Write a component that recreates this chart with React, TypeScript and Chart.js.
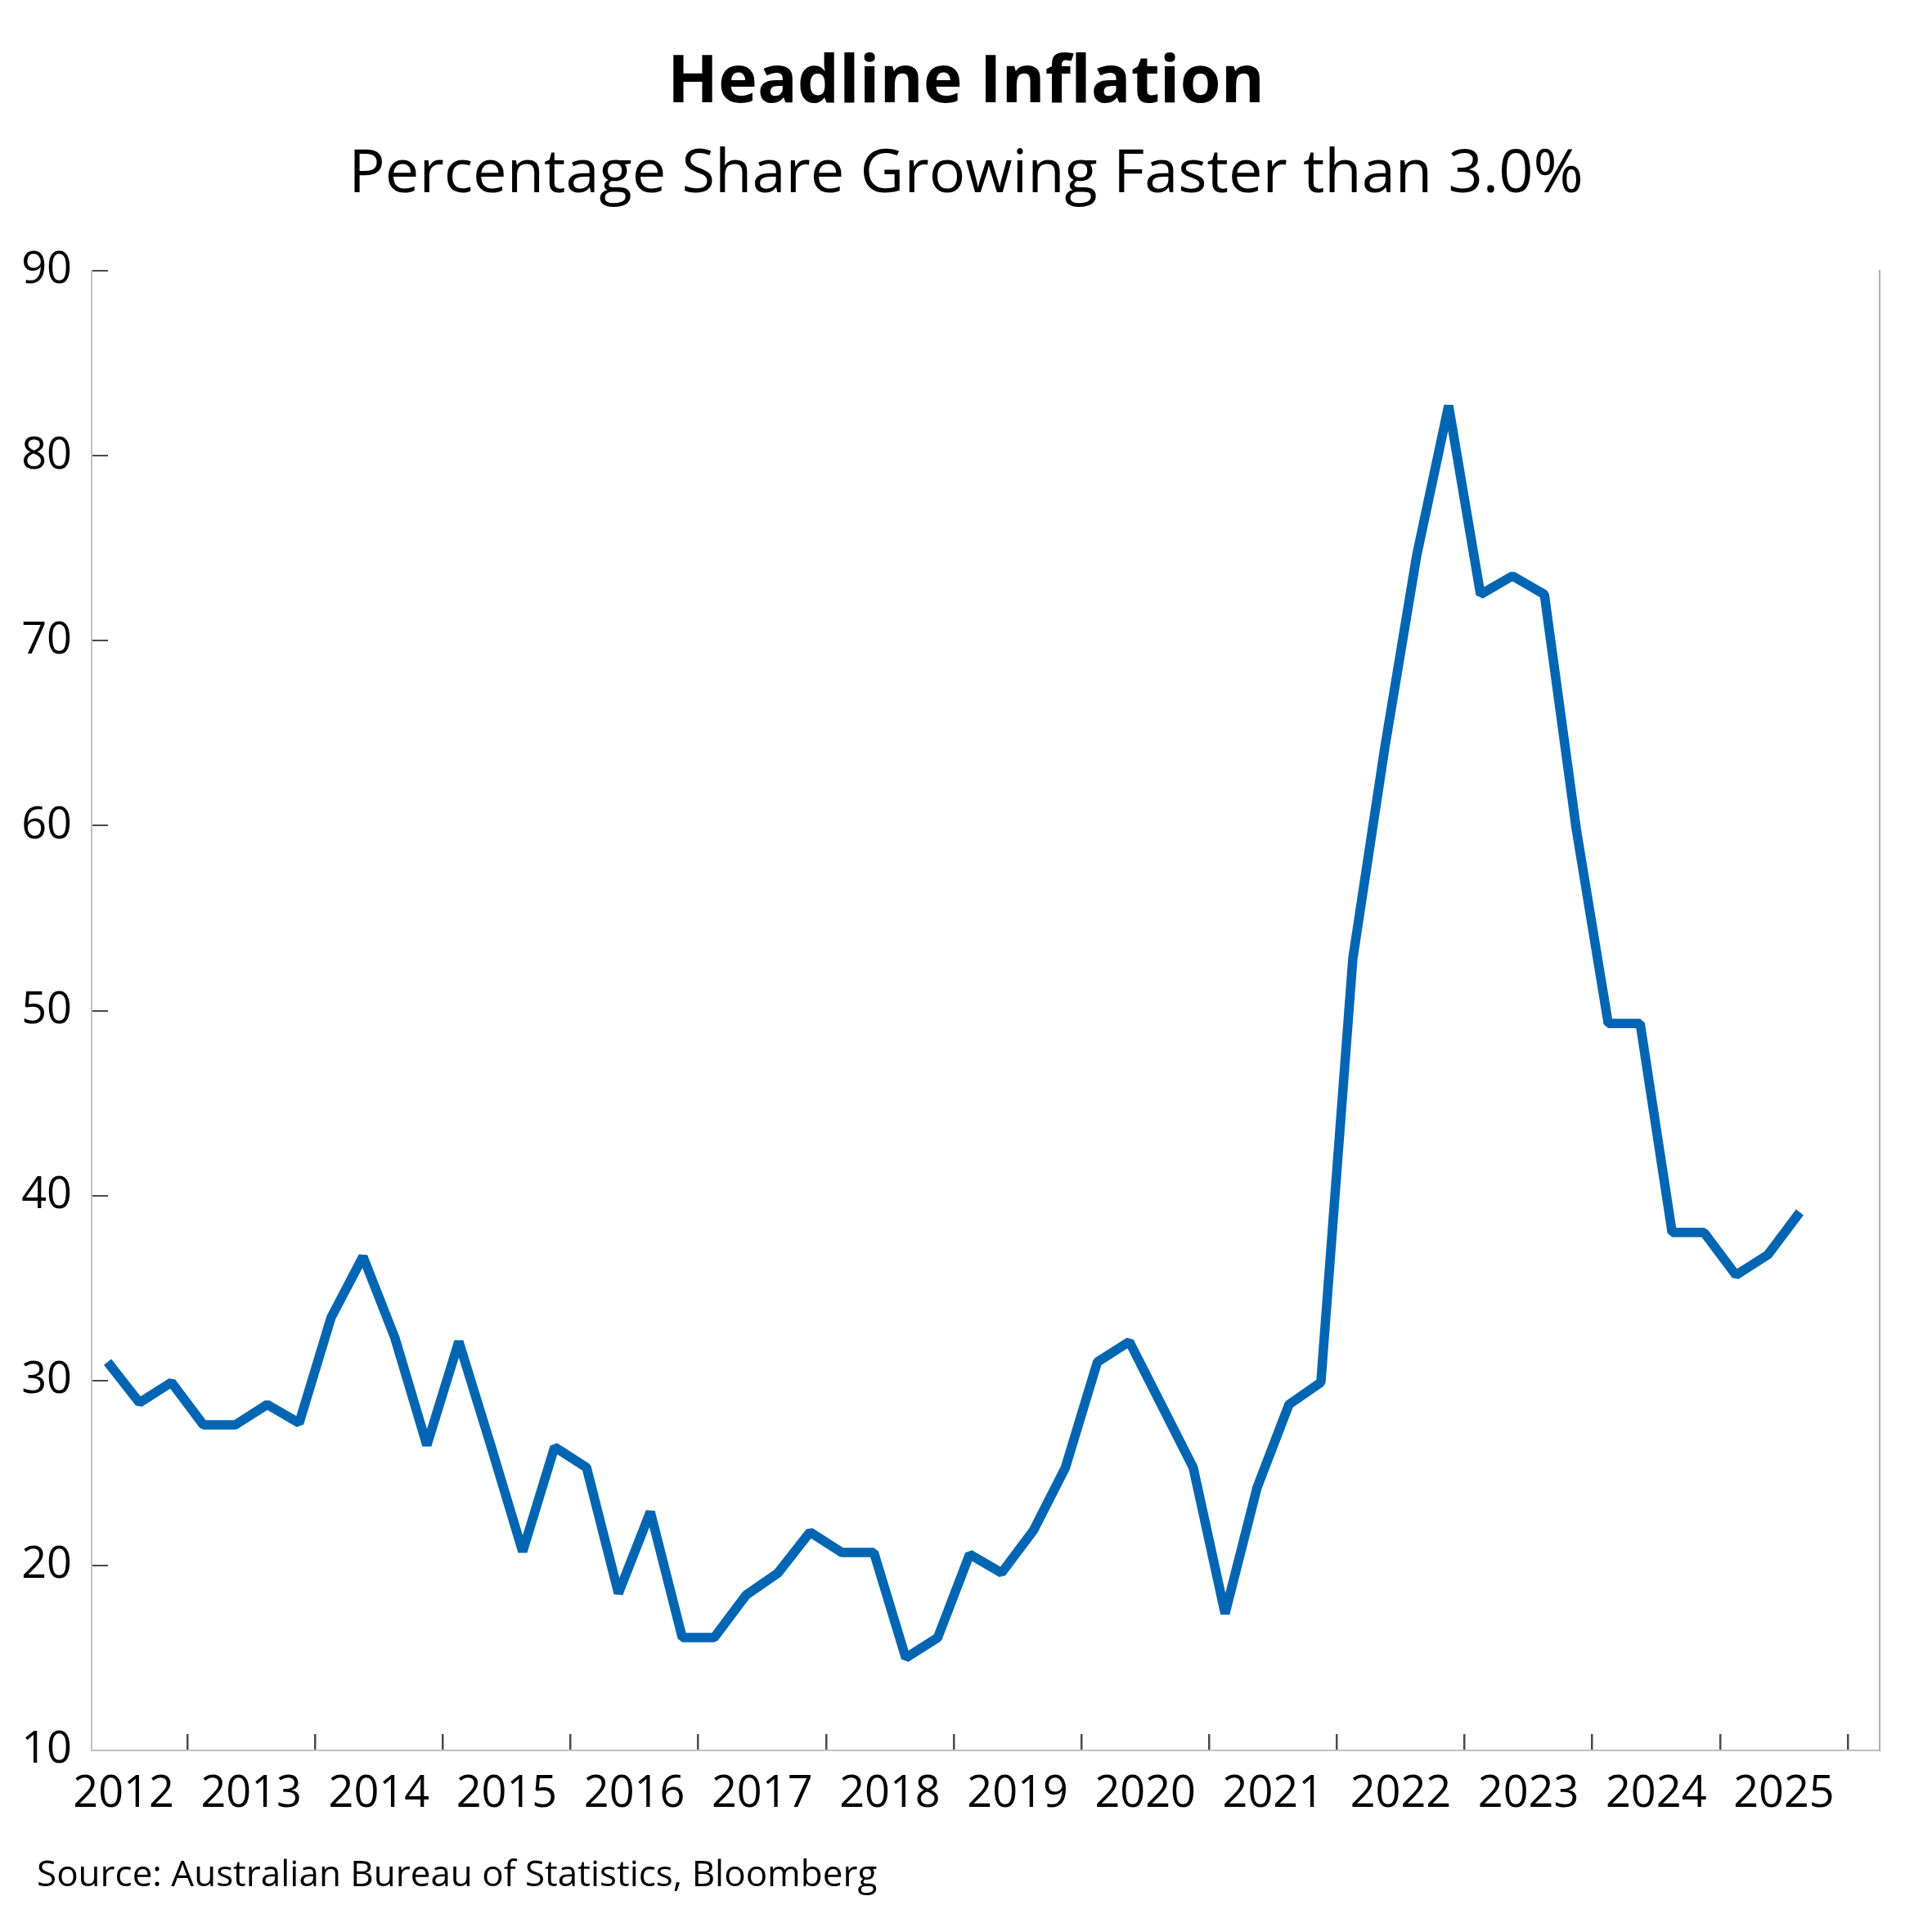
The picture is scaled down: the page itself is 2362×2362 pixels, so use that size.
import React, { useEffect, useRef } from "react";
import { Chart, registerables } from "chart.js";

Chart.register(...registerables);

// Quarterly observations (Q2 2012 – Q3 2025)
const quarters = [
  "2012Q2", "2012Q3", "2012Q4",
  "2013Q1", "2013Q2", "2013Q3", "2013Q4",
  "2014Q1", "2014Q2", "2014Q3", "2014Q4",
  "2015Q1", "2015Q2", "2015Q3", "2015Q4",
  "2016Q1", "2016Q2", "2016Q3", "2016Q4",
  "2017Q1", "2017Q2", "2017Q3", "2017Q4",
  "2018Q1", "2018Q2", "2018Q3", "2018Q4",
  "2019Q1", "2019Q2", "2019Q3", "2019Q4",
  "2020Q1", "2020Q2", "2020Q3", "2020Q4",
  "2021Q1", "2021Q2", "2021Q3", "2021Q4",
  "2022Q1", "2022Q2", "2022Q3", "2022Q4",
  "2023Q1", "2023Q2", "2023Q3", "2023Q4",
  "2024Q1", "2024Q2", "2024Q3", "2024Q4",
  "2025Q1", "2025Q2", "2025Q3",
];

// Percentage share of CPI components growing faster than 3.0%
const shareAbove3 = [
  31.0, 28.8, 29.9,
  27.6, 27.6, 28.7, 27.7,
  33.4, 36.7, 32.3, 26.5,
  32.1, 26.5, 20.75, 26.4,
  25.3, 18.5, 22.9, 16.1,
  16.1, 18.4, 19.6, 21.8,
  20.7, 20.7, 15.0, 16.1,
  20.6, 19.6, 21.9, 25.3,
  31.0, 32.1, 28.7, 25.3,
  17.4, 24.2, 28.7, 29.9,
  52.8, 64.2, 74.6, 82.7,
  72.5, 73.5, 72.5, 59.8,
  49.3, 49.3, 38.0, 38.0,
  35.7, 36.8, 39.1,
];

const yearLabels = [2012, 2013, 2014, 2015, 2016, 2017, 2018, 2019, 2020, 2021, 2022, 2023, 2024, 2025];
const yTickValues = [10, 20, 30, 40, 50, 60, 70, 80, 90];

const titleText = "Headline Inflation";
const subtitleText = "Percentage Share Growing Faster than 3.0%";
const sourceText = "Source: Australian Bureau of Statistics, Bloomberg";

// axis window: start of Q2 2012 to end of Q1 2026
const xMin = 2012.25;
const xMax = 2026.25;

function quarterToX(q: string): number {
  const [y, qq] = q.split("Q");
  return Number(y) + (Number(qq) - 0.5) / 4;
}

const FONT = "'Open Sans', sans-serif";
const W = 2362;
const H = 2362;

export default function App() {
  const ref = useRef<HTMLCanvasElement>(null);

  useEffect(() => {
    if (!ref.current) return;
    const chart = new Chart(ref.current, {
      type: "line",
      data: {
        datasets: [
          {
            data: quarters.map((q, i) => ({ x: quarterToX(q), y: shareAbove3[i] })),
            borderColor: "#0066b3",
            backgroundColor: "#0066b3",
            borderWidth: 11.5,
            borderJoinStyle: "bevel",
            borderCapStyle: "butt",
            pointRadius: 0,
            tension: 0,
            fill: false,
            xAxisID: "x",
            yAxisID: "y",
          },
        ],
      },
      options: {
        animation: false,
        responsive: false,
        devicePixelRatio: 1,
        layout: { padding: { left: 0, right: 0, top: 0, bottom: 72 } },
        plugins: {
          legend: { display: false },
          tooltip: { enabled: false },
          title: {
            display: true,
            text: titleText,
            color: "#000",
            font: { family: FONT, size: 81, weight: "bold" },
            padding: { top: 53, bottom: 0 },
          },
          subtitle: {
            display: true,
            text: subtitleText,
            color: "#000",
            font: { family: FONT, size: 74, weight: "normal" },
            padding: { top: 19, bottom: 73 },
          },
        },
        scales: {
          x: {
            type: "linear",
            position: "bottom",
            min: xMin,
            max: xMax,
            afterBuildTicks: (s: any) => {
              s.ticks = yearLabels.map((y) => ({ value: y + 0.5 }));
            },
            afterFit: (s: any) => {
              s.height = 150;
            },
            grid: {
              offset: true,
              drawOnChartArea: false,
              drawTicks: true,
              tickLength: -20,
              color: "#4a4a4a",
              lineWidth: 2.5,
            },
            border: { display: true, color: "#c0c0c0", width: 2 },
            ticks: {
              color: "#000",
              font: { family: FONT, size: 54 },
              padding: 41,
              maxRotation: 0,
              autoSkip: false,
              callback: (v: any) => String(Math.floor(Number(v))),
            },
          },
          y: {
            type: "linear",
            position: "left",
            min: 10,
            max: 90,
            afterBuildTicks: (s: any) => {
              s.ticks = yTickValues.map((v) => ({ value: v }));
            },
            afterFit: (s: any) => {
              s.width = 112;
            },
            grid: {
              drawOnChartArea: false,
              drawTicks: true,
              tickLength: -20,
              color: "#4a4a4a",
              lineWidth: 2,
            },
            border: { display: true, color: "#c0c0c0", width: 2 },
            ticks: {
              color: "#000",
              font: { family: FONT, size: 54 },
              padding: 44,
            },
          },
          y2: {
            type: "linear",
            position: "right",
            min: 10,
            max: 90,
            afterFit: (s: any) => {
              s.width = 64;
            },
            grid: { display: true, drawOnChartArea: false, drawTicks: false },
            border: { display: true, color: "#b0b0b0", width: 2 },
            ticks: { display: false },
          },
        },
      },
    } as any);
    return () => chart.destroy();
  }, []);

  return (
    <div style={{ position: "absolute", left: 0, top: 0, width: W, height: H, background: "#fff" }}>
      <canvas ref={ref} width={W} height={H} style={{ width: W, height: H, display: "block" }} />
      <div
        style={{
          position: "absolute",
          left: 45,
          top: 2267,
          fontFamily: FONT,
          fontSize: 44,
          lineHeight: "44px",
          color: "#000",
          whiteSpace: "nowrap",
        }}
      >
        {sourceText}
      </div>
    </div>
  );
}
